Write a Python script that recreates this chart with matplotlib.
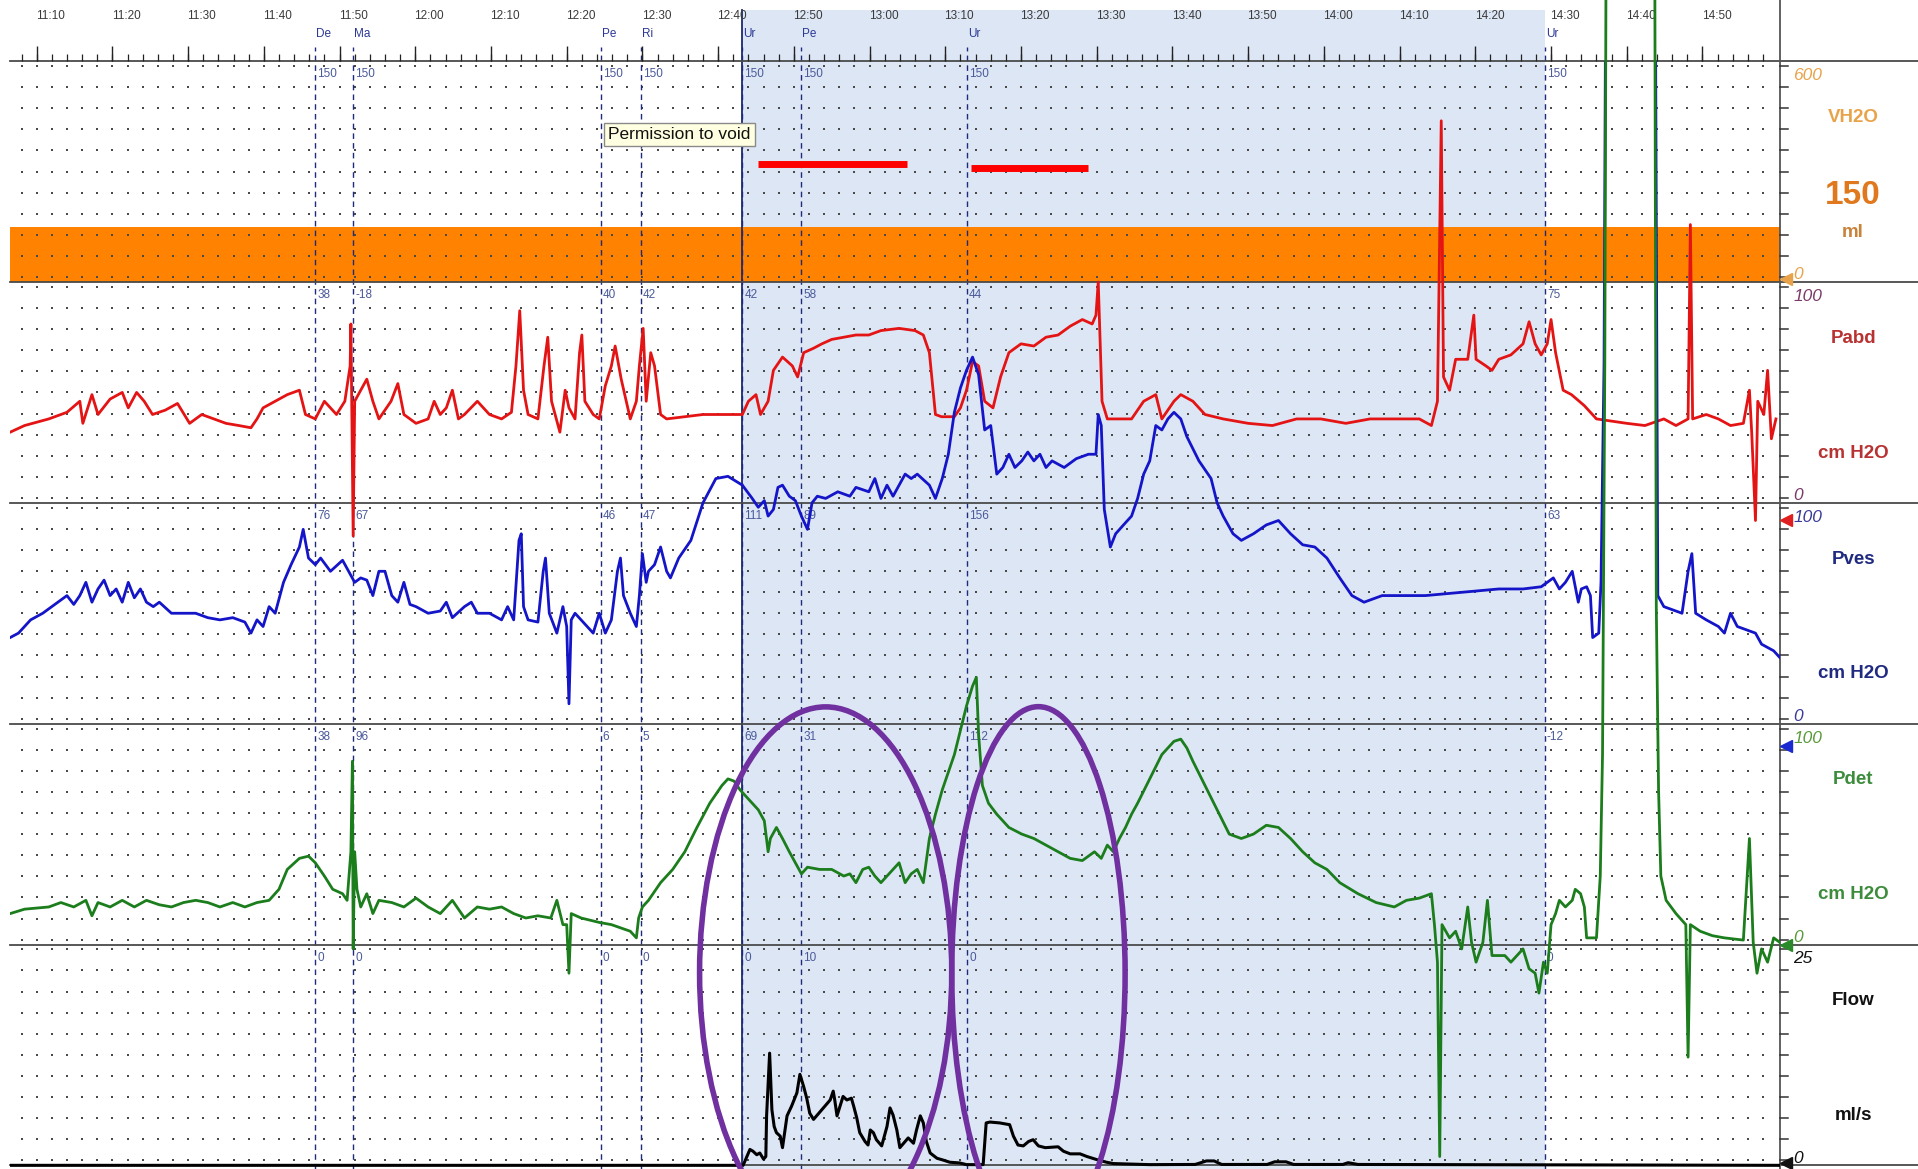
import numpy as np
import matplotlib.pyplot as plt
from matplotlib.patches import Ellipse, Rectangle

plt.rcParams['font.family'] = ['Liberation Sans', 'DejaVu Sans']

# all times are minutes after 11:00
time_ticks = list(range(10, 240, 10))
time_labels = ['11:10', '11:20', '11:30', '11:40', '11:50', '12:00', '12:10', '12:20',
               '12:30', '12:40', '12:50', '13:00', '13:10', '13:20', '13:30', '13:40',
               '13:50', '14:00', '14:10', '14:20', '14:30', '14:40', '14:50']

event_t = [46.8, 51.8, 84.5, 89.8, 103.2, 111.0, 132.9, 209.2]
event_names = ['De', 'Ma', 'Pe', 'Ri', 'Ur', 'Pe', 'Ur', 'Ur']
vol_marks = ['150'] * 8
pabd_marks = ['38', '-18', '40', '42', '42', '58', '44', '75']
pves_marks = ['76', '67', '46', '47', '111', '89', '156', '63']
pdet_marks = ['38', '96', '6', '5', '69', '31', '112', '-12']
flow_marks = ['0', '0', '0', '0', '0', '10', '0', '0']

void_start, void_end = 103.2, 209.2

# VH2O (ml)
vol_pts = [(6.45, 150), (240.2, 150)]

# Pabd (cm H2O)
pabd_pts = [
    (6.5, 32), (8.4, 35), (11.6, 38), (14.0, 41), (15.7, 46), (16.1, 36), (17.3, 49), (18.1, 40),
    (19.7, 47), (21.3, 50), (22.1, 43), (23.2, 50), (24.2, 46), (25.3, 40), (27.0, 42), (28.6, 45),
    (30.2, 36), (31.8, 40), (33.4, 38), (35.0, 36), (36.7, 35), (38.3, 34), (39.1, 38), (39.9, 43),
    (41.5, 46), (43.1, 49), (44.7, 51), (45.5, 40), (46.8, 38), (48.0, 46), (49.6, 40), (50.7, 46),
    (51.4, 62), (51.5, 81), (51.7, 18), (51.8, -15), (52.0, 46), (52.8, 51), (53.6, 56), (54.4, 46),
    (55.2, 38), (56.8, 46), (57.7, 54), (58.5, 40), (60.1, 36), (61.7, 38), (62.5, 46), (63.3, 40),
    (64.1, 43), (64.9, 51), (65.7, 38), (66.5, 40), (68.2, 46), (69.8, 40), (71.4, 38), (72.7, 41),
    (73.3, 62), (73.8, 87), (74.3, 51), (74.9, 40), (76.2, 38), (77.0, 62), (77.5, 75), (78.0, 46),
    (79.1, 32), (79.8, 51), (80.3, 43), (81.1, 38), (81.7, 68), (82.0, 76), (82.4, 46), (83.5, 40),
    (84.3, 38), (85.1, 53), (85.9, 62), (86.4, 71), (87.2, 56), (88.4, 38), (89.2, 46), (89.6, 62),
    (90.1, 79), (90.5, 46), (91.1, 68), (91.6, 62), (92.4, 40), (93.2, 38), (98.0, 40), (103.2, 40),
    (104.0, 46), (105.0, 49), (105.6, 40), (106.6, 46), (107.3, 60), (108.5, 66), (109.8, 62),
    (110.5, 57), (111.3, 68), (112.6, 70), (113.7, 72), (115.0, 74), (116.6, 75), (118.2, 76),
    (119.9, 76), (121.5, 78), (123.9, 79), (126.0, 78), (127.1, 76), (127.9, 68), (128.7, 40),
    (129.5, 39), (131.2, 39), (132.0, 43), (132.8, 51), (133.6, 64), (134.4, 62), (135.2, 46),
    (136.3, 43), (137.3, 57), (138.4, 68), (140.0, 72), (141.7, 71), (143.3, 75), (144.9, 76),
    (146.5, 80), (148.1, 83), (149.4, 81), (149.9, 85), (150.2, 100), (150.7, 46), (151.4, 38),
    (154.6, 38), (156.2, 46), (157.8, 49), (158.6, 38), (160.2, 46), (161.1, 49), (162.7, 46),
    (164.3, 40), (166.7, 38), (170.0, 36), (173.2, 35), (176.4, 38), (179.6, 38), (182.9, 36),
    (186.1, 38), (192.6, 38), (194.2, 35), (195.0, 46), (195.5, 173), (195.8, 57), (196.6, 51),
    (197.4, 65), (199.0, 65), (199.8, 85), (200.1, 65), (201.4, 62), (202.2, 60), (203.1, 65),
    (204.7, 67), (206.3, 72), (207.1, 82), (207.9, 72), (208.7, 67), (209.5, 72), (210.0, 83),
    (210.6, 68), (211.6, 51), (212.7, 49), (214.4, 44), (216.0, 38), (220.0, 36), (222.4, 35),
    (224.9, 38), (226.5, 35), (228.1, 38), (228.4, 126), (228.7, 38), (230.5, 40), (232.1, 38),
    (233.7, 35), (235.4, 36), (236.2, 51), (236.5, 32), (237.0, -8), (237.3, 46), (238.1, 40),
    (238.6, 60), (239.1, 29), (239.7, 38),
]

# Pves (cm H2O)
pves_pts = [
    (6.5, 39), (7.6, 41), (9.2, 47), (10.8, 50), (12.4, 54), (14.0, 58), (14.9, 54), (15.7, 58),
    (16.5, 64), (17.3, 55), (18.1, 61), (18.9, 65), (19.7, 58), (20.5, 61), (21.3, 55), (22.1, 64),
    (22.9, 57), (23.7, 61), (24.5, 55), (25.4, 53), (26.2, 55), (27.8, 50), (31.0, 50), (32.6, 48),
    (34.2, 47), (35.9, 48), (37.5, 46), (38.3, 41), (39.1, 47), (39.9, 44), (40.7, 53), (41.5, 50),
    (42.6, 64), (43.6, 72), (44.7, 80), (45.2, 88), (45.9, 75), (46.8, 72), (47.5, 75), (48.8, 69),
    (50.4, 74), (51.2, 69), (52.0, 64), (52.8, 66), (53.6, 65), (54.4, 58), (55.2, 69), (56.0, 69),
    (56.9, 58), (57.7, 55), (58.5, 64), (59.3, 54), (60.1, 53), (61.7, 50), (63.3, 51), (64.1, 55),
    (64.9, 48), (66.5, 53), (67.4, 55), (68.2, 50), (69.8, 50), (71.4, 47), (72.2, 53), (73.0, 47),
    (73.7, 83), (74.0, 86), (74.3, 53), (74.9, 47), (76.2, 46), (76.9, 69), (77.2, 75), (77.7, 50),
    (78.7, 41), (79.5, 53), (80.0, 44), (80.3, 9), (80.6, 47), (81.1, 50), (82.7, 44), (83.5, 41),
    (84.3, 50), (85.1, 41), (85.9, 47), (86.7, 69), (87.1, 75), (87.5, 58), (88.4, 50), (89.2, 44),
    (89.6, 58), (90.0, 77), (90.5, 64), (90.8, 69), (91.6, 72), (92.4, 80), (93.2, 69), (93.7, 66),
    (94.8, 75), (96.4, 83), (98.0, 100), (99.7, 111), (101.3, 112), (103.2, 108), (104.5, 102),
    (105.3, 98), (106.1, 101), (106.6, 94), (107.3, 97), (107.9, 107), (108.5, 108), (109.4, 103),
    (110.2, 101), (111.0, 94), (111.8, 88), (112.4, 100), (113.1, 103), (114.2, 102), (115.8, 105),
    (117.4, 103), (118.2, 107), (119.9, 105), (120.7, 111), (121.5, 102), (122.3, 108), (123.1, 103),
    (124.7, 113), (125.5, 111), (126.3, 113), (127.9, 108), (128.7, 102), (129.6, 111), (130.4, 122),
    (131.2, 141), (132.0, 152), (132.8, 160), (133.6, 166), (134.4, 158), (135.2, 133), (136.0, 135),
    (136.8, 113), (137.6, 116), (138.4, 122), (139.2, 116), (140.1, 119), (140.9, 123), (141.7, 119),
    (142.5, 122), (143.3, 116), (144.1, 119), (145.7, 116), (147.3, 120), (148.9, 122), (149.9, 122),
    (150.2, 140), (150.6, 135), (151.0, 97), (151.8, 80), (152.5, 86), (153.8, 91), (154.6, 94),
    (155.4, 102), (156.2, 113), (157.0, 119), (157.8, 135), (158.6, 133), (159.4, 138), (160.2, 141),
    (161.1, 138), (161.9, 130), (163.5, 119), (165.1, 111), (165.9, 100), (166.7, 94), (168.0, 86),
    (169.1, 83), (170.7, 86), (172.4, 90), (174.0, 92), (175.6, 86), (177.2, 81), (178.8, 80),
    (180.4, 75), (182.1, 66), (183.7, 58), (185.3, 55), (187.7, 58), (193.4, 58), (196.6, 59),
    (199.8, 60), (203.1, 61), (206.3, 61), (208.7, 62), (209.5, 64), (210.3, 66), (211.1, 61),
    (211.9, 64), (212.8, 69), (213.6, 55), (214.0, 61), (214.7, 62), (215.2, 58), (215.5, 39),
    (216.3, 41), (216.6, 64), (217.0, 163), (217.3, 400), (223.7, 400), (224.1, 58), (224.9, 53),
    (227.3, 50), (228.1, 69), (228.6, 77), (229.1, 50), (230.5, 47), (232.1, 44), (232.9, 41),
    (233.7, 50), (234.6, 44), (237.0, 41), (237.8, 36), (239.4, 33), (240.2, 30),
]

# Pdet (cm H2O)
pdet_pts = [
    (6.5, 14), (8.4, 16), (11.6, 17), (13.2, 19), (14.9, 17), (16.5, 20), (17.3, 13), (18.1, 19),
    (19.7, 17), (21.3, 20), (22.9, 17), (24.5, 20), (26.2, 18), (27.8, 17), (29.4, 19), (31.0, 20),
    (32.6, 19), (34.2, 17), (35.9, 19), (37.5, 17), (39.1, 19), (40.7, 20), (42.0, 25), (43.1, 34),
    (44.7, 39), (45.9, 40), (46.8, 37), (48.0, 31), (49.1, 25), (50.4, 23), (51.0, 20), (51.5, 42),
    (51.7, 83), (51.8, -2), (52.0, 42), (52.3, 25), (52.8, 17), (53.6, 23), (54.4, 14), (55.2, 20),
    (56.9, 19), (58.5, 17), (60.1, 21), (61.7, 17), (63.3, 14), (64.9, 20), (66.5, 12), (68.2, 17),
    (69.8, 16), (71.4, 17), (73.0, 14), (74.6, 12), (76.2, 13), (77.9, 12), (78.7, 20), (79.5, 9),
    (80.0, 9), (80.3, -13), (80.6, 14), (81.9, 12), (84.3, 10), (85.9, 9), (88.4, 6), (89.2, 3),
    (89.5, 12), (90.0, 17), (90.8, 20), (92.4, 28), (94.0, 34), (95.6, 42), (97.2, 53), (98.9, 64),
    (100.5, 72), (101.3, 75), (102.1, 74), (102.9, 70), (104.5, 64), (105.3, 61), (106.1, 56),
    (106.6, 42), (106.9, 48), (107.7, 53), (108.5, 48), (109.4, 42), (110.2, 37), (111.0, 32),
    (111.8, 35), (113.4, 34), (115.0, 34), (116.6, 31), (117.4, 32), (118.2, 28), (119.1, 34),
    (119.9, 35), (120.7, 31), (121.5, 28), (122.3, 31), (123.9, 37), (124.7, 28), (125.5, 32),
    (126.3, 34), (127.1, 28), (127.9, 48), (128.7, 59), (129.6, 70), (130.4, 78), (131.2, 86),
    (132.0, 97), (132.8, 108), (133.6, 117), (134.1, 121), (134.4, 95), (134.9, 72), (135.7, 64),
    (136.8, 59), (138.4, 53), (140.1, 50), (141.7, 48), (143.3, 45), (144.9, 42), (146.5, 39),
    (148.1, 38), (149.7, 42), (150.6, 39), (151.4, 45), (152.2, 42), (153.0, 48), (153.8, 53),
    (154.6, 59), (155.4, 64), (157.0, 75), (158.6, 86), (160.2, 92), (161.1, 93), (161.9, 89),
    (162.7, 83), (164.3, 72), (165.9, 61), (167.5, 50), (169.1, 48), (170.7, 50), (172.4, 54),
    (174.0, 53), (175.6, 48), (177.2, 42), (178.8, 37), (180.4, 34), (182.1, 28), (184.5, 23),
    (186.9, 19), (189.3, 17), (190.9, 20), (192.6, 21), (194.2, 23), (194.6, 9), (195.0, -8),
    (195.3, -96), (195.6, 9), (196.6, 3), (197.4, 6), (198.2, -2), (199.0, 17), (199.5, 1),
    (200.1, -8), (201.0, 1), (201.6, 20), (202.2, -5), (203.9, -5), (204.7, -8), (206.3, -2),
    (207.1, -11), (207.9, -13), (208.4, -22), (209.0, -8), (209.5, -13), (210.0, 9), (210.6, 14),
    (211.1, 20), (211.9, 17), (212.8, 20), (213.2, 25), (213.9, 23), (214.4, 17), (214.7, 3),
    (216.0, 3), (216.5, 31), (216.8, 86), (217.1, 263), (217.4, 600), (223.6, 600), (223.9, 153),
    (224.2, 70), (224.5, 31), (225.2, 20), (226.5, 14), (227.8, 9), (228.1, -51), (228.4, 9),
    (229.7, 6), (231.3, 4), (232.9, 3), (235.4, 2), (236.2, 48), (236.7, 1), (237.2, -13),
    (237.8, -2), (238.6, -8), (239.4, 3), (240.2, 1),
]

# Flow (ml/s)
flow_pts = [
    (6.5, 0), (103.3, 0), (104.2, 1.8), (104.6, 1.6), (105.1, 1.2), (105.5, 1.4), (106.0, 0.7),
    (106.3, 1.0), (106.4, 5.6), (106.8, 12.7), (107.1, 6.3), (107.4, 4.4), (107.7, 3.7), (108.2, 3.3),
    (108.5, 2.0), (109.1, 5.6), (109.7, 6.7), (110.4, 8.2), (110.8, 10.3), (111.3, 8.9), (111.7, 7.6),
    (112.1, 5.9), (112.6, 5.2), (113.5, 6.1), (114.1, 6.7), (114.8, 7.4), (115.2, 8.4), (115.4, 7.4),
    (115.7, 5.6), (116.1, 6.7), (116.5, 7.8), (117.0, 7.4), (117.6, 7.6), (117.9, 6.7), (118.3, 5.4),
    (118.7, 3.7), (119.4, 2.7), (119.8, 2.3), (120.1, 4.0), (120.5, 3.7), (120.9, 2.9), (121.6, 2.2),
    (122.3, 4.4), (122.7, 6.5), (123.1, 5.7), (123.6, 4.0), (124.0, 2.0), (124.5, 2.5), (125.1, 3.1),
    (125.8, 2.5), (126.2, 4.0), (126.7, 5.6), (127.1, 4.8), (127.5, 2.7), (128.0, 1.4), (128.9, 0.8),
    (129.7, 0.6), (130.6, 0.35), (131.9, 0.27), (132.8, 0.08), (135.0, 0.08), (135.4, 4.8),
    (135.9, 4.9), (137.2, 4.8), (138.5, 4.6), (139.0, 3.3), (139.6, 2.3), (140.3, 2.2), (141.0, 2.7),
    (141.6, 2.9), (142.3, 2.2), (143.2, 2.0), (144.9, 2.1), (145.6, 1.6), (146.5, 1.3), (147.8, 1.3),
    (148.7, 1.0), (150.0, 0.65), (151.3, 0.35), (152.2, 0.2), (157.0, 0.08), (163.0, 0.1),
    (164.5, 0.5), (165.5, 0.5), (166.5, 0.1), (172.5, 0.1), (173.5, 0.4), (175.0, 0.4), (176.0, 0.1),
    (182.5, 0.1), (183.2, 0.3), (184.5, 0.1), (240.2, 0),
]

T0, T1 = 6.45, 240.2
Y0, Y1 = -0.0166, 5.277


def lane(base, full, v):
    return base + np.asarray(v, float) / full


fig = plt.figure(figsize=(19.18, 11.69), dpi=100)
ax = fig.add_axes([0.0051, 0, 0.9228, 1])
ax.set_xlim(T0, T1)
ax.set_ylim(Y0, Y1)
ax.axis('off')
side = ax.get_yaxis_transform()

# voiding window
ax.add_patch(Rectangle((void_start, Y0), void_end - void_start, 5.233 - Y0,
                       fc='#dde6f5', ec='none', zorder=0))
ax.plot([void_start] * 2, [Y0, 5.233], color='#1c2a6e', lw=1.3, zorder=3)

# volume band
vt, vv = np.array(vol_pts, float).T
ax.fill_between(vt, 4, lane(4, 600, vv), color='#ff8200', lw=0, zorder=1)

# dotted grid
gx = np.arange(8, 240, 2)
gy = np.concatenate([b + 0.022 + np.arange(11) * 0.0956 for b in range(5)])
X, Y = np.meshgrid(gx, gy)
ax.scatter(X.ravel(), Y.ravel(), s=1.6, c='#4a4a4a', marker='s', linewidths=0, zorder=2)

# channel separators and right axis
for u in range(6):
    ax.plot([0, 1.08], [u, u], transform=side, color='#4a4a4a', lw=1.3, clip_on=False, zorder=4)
ax.plot([1, 1], [Y0, Y1], transform=side, color='#555555', lw=1.3, clip_on=False, zorder=4)
for u in gy:
    ax.plot([1, 1.0045], [u, u], transform=side, color='#333333', lw=1.1, clip_on=False, zorder=4)

# time axis
ax.vlines(np.arange(8, 240, 2), 5.0, 5.033, color='#222222', lw=0.9, zorder=4)
ax.vlines(time_ticks, 5.0, 5.068, color='#222222', lw=1.0, zorder=4)
for t, lab in zip(time_ticks, time_labels):
    ax.text(t - 0.1, 5.205, lab, ha='left', va='center', fontsize=8.5, color='#3a3a3a')

# event markers
ax.vlines(event_t, Y0, 5.066, colors='#1f2a7a', linestyles=(0, (4, 3)), lw=1.0, zorder=3)
for t, name in zip(event_t, event_names):
    ax.text(t + 0.1, 5.122, name, ha='left', va='center', fontsize=8.5, color='#2c3896')
for base, marks in zip([4, 3, 2, 1, 0], [vol_marks, pabd_marks, pves_marks, pdet_marks, flow_marks]):
    for t, s in zip(event_t, marks):
        ax.text(t + 0.25, base + 0.94, s, ha='left', va='center', fontsize=8.5,
                color='#4a5a9a', zorder=5)

# traces
plot_clip = Rectangle((T0, Y0), T1 - T0, 5 - Y0, transform=ax.transData)
traces = [(pabd_pts, 3, 100, '#e41414', 2.0, True),
          (pves_pts, 2, 100, '#1414c8', 2.0, True),
          (pdet_pts, 1, 100, '#1b7d1b', 2.0, False),
          (flow_pts, 0, 25, '#000000', 2.2, True)]
for pts, base, full, col, lw, clip in traces:
    t, v = np.array(pts, float).T
    line, = ax.plot(t, lane(base, full, v), color=col, lw=lw, zorder=6)
    if clip:
        line.set_clip_path(plot_clip)

# annotations
ax.text(85.44, 4.668, 'Permission to void', fontsize=12.5, ha='left', va='center', color='#111111',
        bbox=dict(boxstyle='square,pad=0.25', fc='#ffffe1', ec='#8a8a8a', lw=1), zorder=7)
ax.plot([105.3, 125.0], [4.535, 4.535], color='#ff0000', lw=5, solid_capstyle='butt', zorder=7)
ax.plot([133.4, 148.8], [4.518, 4.518], color='#ff0000', lw=5, solid_capstyle='butt', zorder=7)
ax.add_patch(Ellipse((114.2, 0.873), 33.3, 2.406, fill=False, ec='#7030a0', lw=4, zorder=8))
ax.add_patch(Ellipse((142.3, 0.869), 22.9, 2.416, fill=False, ec='#7030a0', lw=4, zorder=8))

# channel captions on the right
xs, xn = 1.0076, 1.0415
captions = [
    (4, '600', 'VH2O', 'ml', '#e8a34a', '#e8a34a', '#c8823a'),
    (3, '100', 'Pabd', 'cm H2O', '#7a3a6a', '#b83232', '#b83232'),
    (2, '100', 'Pves', 'cm H2O', '#3a3a9a', '#1f2a80', '#1f2a80'),
    (1, '100', 'Pdet', 'cm H2O', '#5a9a3a', '#3c8c3c', '#3c8c3c'),
    (0, '25', 'Flow', 'ml/s', '#111111', '#111111', '#111111'),
]
for base, top, name, unit, ctop, cname, cunit in captions:
    ax.text(xs, base + 0.935, top, transform=side, fontsize=12.5, style='italic', color=ctop,
            ha='left', va='center')
    ax.text(xn, base + 0.745, name, transform=side, fontsize=13.5, fontweight='bold', color=cname,
            ha='center', va='center')
    ax.text(xn, base + 0.225, unit, transform=side, fontsize=13.5, fontweight='bold', color=cunit,
            ha='center', va='center')
    ax.text(xs, base + 0.032, '0', transform=side, fontsize=12.5, style='italic', color=ctop,
            ha='left', va='center')
ax.text(xn, 4.391, '150', transform=side, fontsize=24, fontweight='bold', color='#e0781e',
        ha='center', va='center')

for x, u, col in [(1.0035, 4.014, '#e8a34a'), (1.0035, 2.924, '#e02020'), (1.0035, 1.899, '#1a2ad0'),
                  (1.0035, 0.997, '#2a8a2a'), (1.0035, 0.011, '#111111')]:
    ax.plot(x, u, marker='<', ms=9, color=col, transform=side, clip_on=False, zorder=9)

fig.savefig('out.png', dpi=100)
